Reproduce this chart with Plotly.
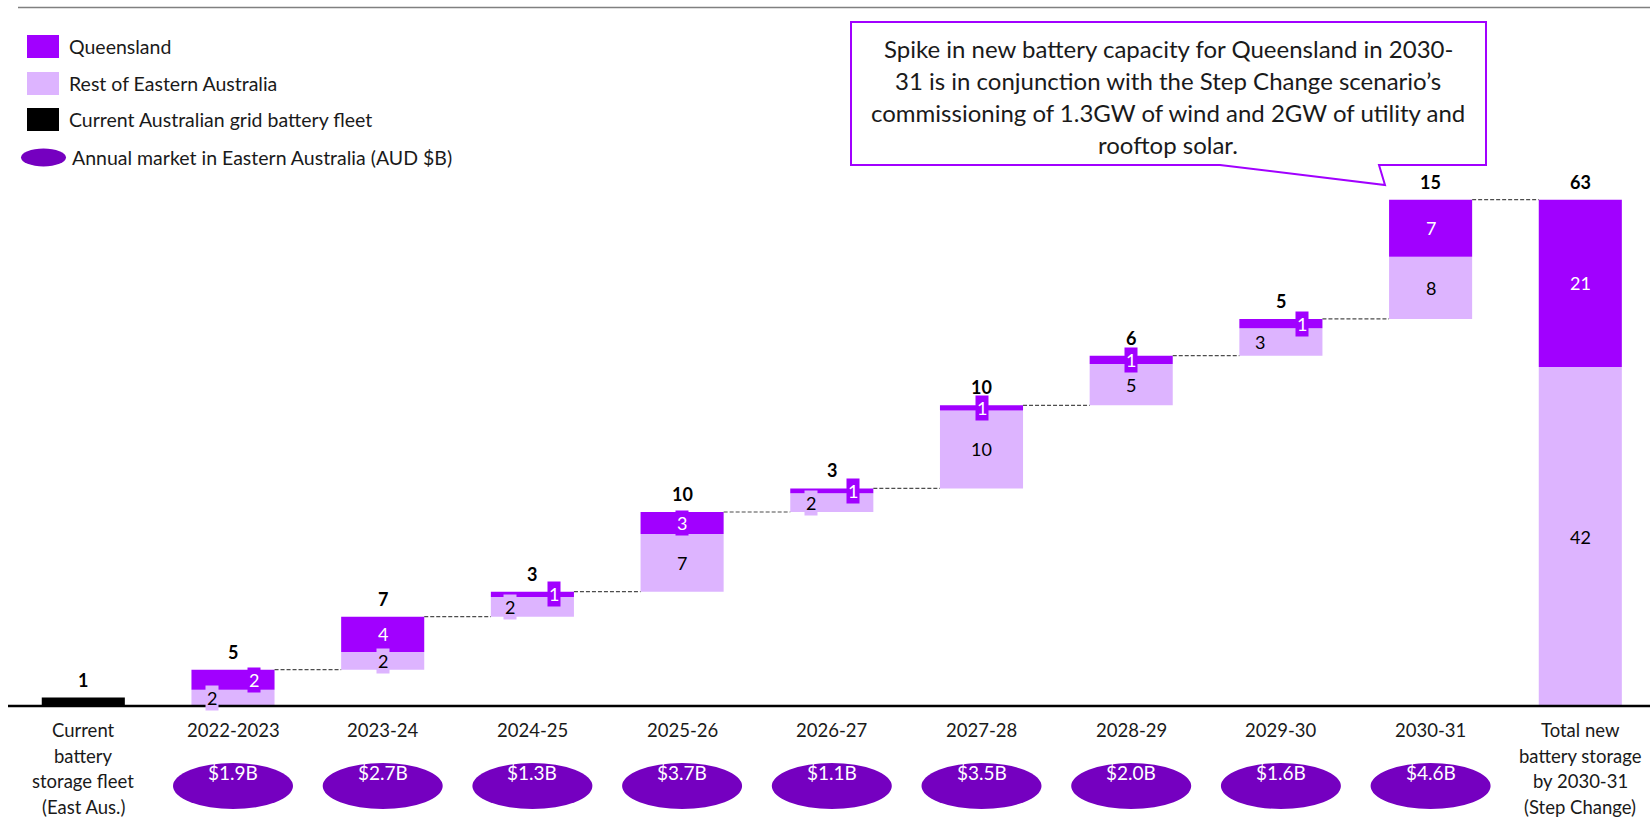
import plotly.graph_objects as go

# ---- data -------------------------------------------------------------
years = ["2022-2023", "2023-24", "2024-25", "2025-26", "2026-27",
         "2027-28", "2028-29", "2029-30", "2030-31"]
qld_gwh = [2.49, 4.39, 0.66, 2.74, 0.62, 0.63, 1.05, 1.17, 7.09]
rest_gwh = [2.03, 2.21, 2.46, 7.18, 2.32, 9.71, 5.14, 3.40, 7.76]
current_fleet_gwh = 1.05
market_aud_b = [1.9, 2.7, 1.3, 3.7, 1.1, 3.5, 2.0, 1.6, 4.6]

fleet_label = "Current\nbattery\nstorage fleet\n(East Aus.)"
total_label = "Total new\nbattery storage\nby 2030-31\n(Step Change)"
callout_lines = [
    "Spike in new battery capacity for Queensland in 2030-",
    "31 is in conjunction with the Step Change scenario\u2019s",
    "commissioning of 1.3GW of wind and 2GW of utility and",
    "rooftop solar.",
]
legend_items = ["Queensland", "Rest of Eastern Australia",
                "Current Australian grid battery fleet",
                "Annual market in Eastern Australia (AUD $B)"]

# ---- styling ----------------------------------------------------------
QLD = "#A100FF"
REST = "#DDB4FF"
DARK = "#7500C0"
INK = "#1a1a1a"
FONT = "Lato"
W, H = 1650, 818
BAR_W = 0.555
# horizontal nudge (px) for the labels of thin segments
nudge = [21, 0, 22, 0, 21, 0, 0, 21, 0]


def px(x):
    return x / W


def py(y):
    return 1 - y / H


n = len(years)
xs_year = list(range(1, n + 1))
x_total = n + 1

# waterfall bases
starts = []
cum = 0.0
for q, r in zip(qld_gwh, rest_gwh):
    starts.append(cum)
    cum += q + r
steps = [q + r for q, r in zip(qld_gwh, rest_gwh)]
tops = [s + d for s, d in zip(starts, steps)]
total_qld = sum(qld_gwh)
total_rest = sum(rest_gwh)
grand_total = total_qld + total_rest

fig = go.Figure()

fig.add_trace(go.Bar(x=[0], y=[current_fleet_gwh], base=[0], width=BAR_W,
                     marker=dict(color="black", line_width=0), hoverinfo="skip"))
fig.add_trace(go.Bar(x=xs_year + [x_total], y=rest_gwh + [total_rest],
                     base=starts + [0], width=BAR_W,
                     marker=dict(color=REST, line_width=0), hoverinfo="skip"))
fig.add_trace(go.Bar(x=xs_year + [x_total], y=qld_gwh + [total_qld],
                     base=[s + r for s, r in zip(starts, rest_gwh)] + [total_rest],
                     width=BAR_W, marker=dict(color=QLD, line_width=0),
                     hoverinfo="skip"))

shapes = []
annotations = []

# connectors between consecutive bars
conn_x = xs_year + [x_total]
for i in range(len(tops)):
    shapes.append(dict(type="line", xref="x", yref="y",
                       x0=conn_x[i] + BAR_W / 2, x1=conn_x[i + 1] - BAR_W / 2,
                       y0=tops[i], y1=tops[i],
                       line=dict(color="#4d4d4d", width=1.2, dash="4px,2px")))

# baseline and top rule
shapes.append(dict(type="line", xref="paper", yref="y", x0=px(8), x1=1,
                   y0=0, y1=0, line=dict(color="black", width=2.5)))
shapes.append(dict(type="line", xref="paper", yref="paper", x0=px(18), x1=1,
                   y0=py(7.5), y1=py(7.5), line=dict(color="#808080", width=1.5)))


# value labels
def seg_label(x, y, val, bg, color, xshift=0):
    annotations.append(dict(x=x, y=y, xref="x", yref="y", text=f"{val:.0f}",
                            showarrow=False, xshift=xshift, bgcolor=bg,
                            borderpad=1, font=dict(family=FONT, size=18, color=color)))


def top_label(x, y, val):
    annotations.append(dict(x=x, y=y, xref="x", yref="y", text=f"<b>{val:.0f}</b>",
                            showarrow=False, yanchor="bottom", yshift=5,
                            font=dict(family=FONT, size=18, color="black")))


for i in range(n):
    x = xs_year[i]
    s, q, r = starts[i], qld_gwh[i], rest_gwh[i]
    seg_label(x, s + r / 2, r, REST, "black", -nudge[i])
    seg_label(x, s + r + q / 2, q, QLD, "white", nudge[i])
    top_label(x, tops[i], steps[i])

seg_label(x_total, total_rest / 2, total_rest, REST, "black")
seg_label(x_total, total_rest + total_qld / 2, total_qld, QLD, "white")
top_label(x_total, grand_total, grand_total)
top_label(0, current_fleet_gwh, current_fleet_gwh)

# category labels, one annotation per line
LINE_GAP = 25.5
cats = [fleet_label] + years + [total_label]
for i, lab in enumerate(cats):
    for k, line in enumerate(lab.split("\n")):
        annotations.append(dict(x=i, xref="x", y=py(730 + k * LINE_GAP), yref="paper",
                                text=line, showarrow=False, xanchor="center",
                                yanchor="middle",
                                font=dict(family=FONT, size=18.5, color=INK)))

# annual market ovals
ppu_x = 149.7
ppu_y = 8.03
for i, v in enumerate(market_aud_b):
    x = xs_year[i]
    shapes.append(dict(type="circle", xref="x", yref="paper",
                       x0=x - 60 / ppu_x, x1=x + 60 / ppu_x,
                       y0=py(809), y1=py(763),
                       fillcolor=DARK, line=dict(width=0), layer="above"))
    annotations.append(dict(x=x, xref="x", y=py(786), yref="paper",
                            text=f"${v:.1f}B", showarrow=False, xanchor="center",
                            font=dict(family=FONT, size=19, color="white")))

# legend
legend_y = [46.5, 83.5, 119.5, 157.5]
legend_fill = [QLD, REST, "black"]
for k in range(3):
    shapes.append(dict(type="rect", xref="paper", yref="paper",
                       x0=px(27), x1=px(59), y0=py(legend_y[k] - 11.5), y1=py(legend_y[k] + 11.5),
                       fillcolor=legend_fill[k], line=dict(width=0)))
shapes.append(dict(type="circle", xref="paper", yref="paper",
                   x0=px(21), x1=px(66), y0=py(legend_y[3] - 9), y1=py(legend_y[3] + 9),
                   fillcolor=DARK, line=dict(width=0)))
for k, txt in enumerate(legend_items):
    annotations.append(dict(x=px(67 if k < 3 else 70), xref="paper", y=py(legend_y[k]),
                            yref="paper", text=txt, showarrow=False, xanchor="left",
                            yanchor="middle", font=dict(family=FONT, size=19.5, color=INK)))

# callout with pointer
pts = [(851, 22), (1486, 22), (1486, 165), (1379, 165), (1385, 185),
       (1220, 165), (851, 165)]
path = "M " + " L ".join(f"{px(a):.5f},{py(b):.5f}" for a, b in pts) + " Z"
shapes.append(dict(type="path", xref="paper", yref="paper", path=path,
                   fillcolor="white", line=dict(color=QLD, width=2)))
for k, line in enumerate(callout_lines):
    annotations.append(dict(x=px(1168), xref="paper", y=py(48 + k * 32.3), yref="paper",
                            text=line, showarrow=False, xanchor="center",
                            yanchor="middle",
                            font=dict(family=FONT, size=24, color=INK)))

fig.update_layout(
    width=W, height=H,
    margin=dict(l=0, r=0, t=0, b=0),
    barmode="overlay",
    showlegend=False,
    plot_bgcolor="white", paper_bgcolor="white",
    xaxis=dict(range=[-83.3 / ppu_x, -83.3 / ppu_x + W / ppu_x], visible=False,
               fixedrange=True),
    yaxis=dict(range=[706 / ppu_y - H / ppu_y, 706 / ppu_y], visible=False,
               fixedrange=True),
    shapes=shapes,
    annotations=annotations,
)

fig.write_html("out.html")
